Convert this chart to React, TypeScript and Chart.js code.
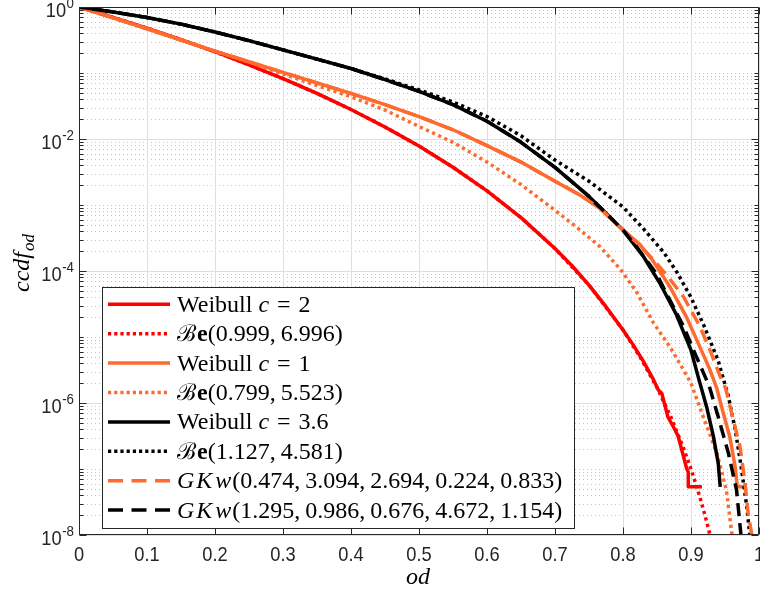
import { useEffect, useRef } from 'react';
import { Chart, registerables } from 'chart.js';

Chart.register(...registerables);

// ---------- data ----------
const X_TICKS = [0, 0.1, 0.2, 0.3, 0.4, 0.5, 0.6, 0.7, 0.8, 0.9, 1];
const X_TICK_LABELS = ['0', '0.1', '0.2', '0.3', '0.4', '0.5', '0.6', '0.7', '0.8', '0.9', '1'];
const Y_MAJOR = [1, 1e-2, 1e-4, 1e-6, 1e-8];
const Y_EXP_LABELS = ['0', '-2', '-4', '-6', '-8'];

// Weibull c = 2 (red, solid)
const weib2X = [0, 0.05, 0.1, 0.15, 0.2, 0.25, 0.3, 0.35, 0.4, 0.45, 0.5, 0.55, 0.6, 0.65, 0.7, 0.725, 0.75, 0.775, 0.8, 0.815, 0.83, 0.845, 0.852, 0.857, 0.862, 0.866, 0.874, 0.881, 0.889, 0.893, 0.896, 0.896, 0.916];
const weib2Y = [1, 0.698, 0.479, 0.321, 0.21, 0.133, 0.0824, 0.049, 0.028, 0.0152, 7.82e-3, 3.73e-3, 1.64e-3, 6.43e-4, 2.19e-4, 1.2e-4, 6.11e-5, 2.88e-5, 1.28e-5, 7.6e-6, 4.27e-6, 2.24e-6, 1.58e-6, 1.41e-6, 8.9e-7, 6.17e-7, 4.37e-7, 3.16e-7, 1.55e-7, 1.07e-7, 8.9e-8, 5.37e-8, 5.37e-8];

// Be(0.999, 6.996) (red, dotted)
const be1X = [0, 0.05, 0.1, 0.15, 0.2, 0.25, 0.3, 0.35, 0.4, 0.45, 0.5, 0.55, 0.6, 0.65, 0.7, 0.75, 0.8, 0.825, 0.85, 0.87, 0.89, 0.9, 0.91, 0.92, 0.93];
const be1Y = [1, 0.698, 0.478, 0.321, 0.21, 0.133, 0.0824, 0.049, 0.028, 0.0152, 7.82e-3, 3.73e-3, 1.64e-3, 6.43e-4, 2.19e-4, 6.11e-5, 1.28e-5, 5.0e-6, 1.71e-6, 6.28e-7, 1.95e-7, 1e-7, 4.79e-8, 2.09e-8, 8.3e-9];

// Weibull c = 1 (orange, solid)
const weib1X = [0, 0.05, 0.1, 0.15, 0.2, 0.25, 0.3, 0.35, 0.4, 0.45, 0.5, 0.55, 0.6, 0.65, 0.7, 0.737, 0.766, 0.795, 0.825, 0.843, 0.869, 0.893, 0.913, 0.928, 0.938, 0.945, 0.957, 0.965, 0.968, 0.979];
const weib1Y = [1, 0.684, 0.468, 0.316, 0.214, 0.148, 0.102, 0.0708, 0.049, 0.0331, 0.0219, 0.0138, 7.94e-3, 4.47e-3, 2.29e-3, 1.41e-3, 8.91e-4, 4.68e-4, 2.51e-4, 1.48e-4, 5.75e-5, 2.04e-5, 7.08e-6, 3.16e-6, 1.66e-6, 8.71e-7, 3.09e-7, 1.07e-7, 5.37e-8, 5.37e-8];

// Be(0.799, 5.523) (orange, dotted)
const be2X = [0, 0.05, 0.1, 0.15, 0.2, 0.25, 0.3, 0.35, 0.4, 0.45, 0.5, 0.55, 0.6, 0.65, 0.7, 0.737, 0.766, 0.796, 0.82, 0.845, 0.869, 0.889, 0.9, 0.918, 0.938, 0.952, 0.96, 0.963];
const be2Y = [1, 0.684, 0.468, 0.316, 0.214, 0.146, 0.0965, 0.0646, 0.0437, 0.0275, 0.0155, 8.91e-3, 4.47e-3, 2.04e-3, 8.32e-4, 4.17e-4, 2.34e-4, 1.07e-4, 4.79e-5, 1.62e-5, 7.08e-6, 3.16e-6, 2.0e-6, 6.17e-7, 1.74e-7, 4.79e-8, 1.07e-8, 6.3e-9];

// Weibull c = 3.6 (black, solid)
const weib36X = [0, 0.05, 0.1, 0.15, 0.2, 0.25, 0.3, 0.35, 0.4, 0.45, 0.5, 0.55, 0.6, 0.65, 0.7, 0.75, 0.8, 0.83, 0.855, 0.878, 0.9, 0.911, 0.923, 0.933, 0.94, 0.943];
const weib36Y = [1, 0.841, 0.692, 0.55, 0.417, 0.309, 0.224, 0.162, 0.117, 0.0794, 0.0525, 0.0331, 0.0186, 8.91e-3, 3.72e-3, 1.35e-3, 4.17e-4, 1.66e-4, 6.31e-5, 2.24e-5, 6.31e-6, 2.4e-6, 8.71e-7, 3.09e-7, 1.23e-7, 5.37e-8];

// Be(1.127, 4.581) (black, dotted)
const be3X = [0, 0.05, 0.1, 0.15, 0.2, 0.25, 0.3, 0.35, 0.4, 0.45, 0.5, 0.55, 0.6, 0.65, 0.7, 0.75, 0.8, 0.83, 0.86, 0.88, 0.9, 0.92, 0.94, 0.955, 0.965, 0.974, 0.982, 0.987];
const be3Y = [1, 0.841, 0.692, 0.55, 0.417, 0.309, 0.224, 0.162, 0.117, 0.0813, 0.0556, 0.0363, 0.0219, 0.0112, 4.79e-3, 2.29e-3, 9.33e-4, 4.37e-4, 1.91e-4, 9.33e-5, 3.98e-5, 1.41e-5, 4.37e-6, 1.26e-6, 3.98e-7, 1.05e-7, 2.69e-8, 8.9e-9];

// GKw(0.474, 3.094, 2.694, 0.224, 0.833) (orange, dashed)
const gkw1X = [0, 0.05, 0.1, 0.15, 0.2, 0.25, 0.3, 0.35, 0.4, 0.45, 0.5, 0.55, 0.6, 0.65, 0.7, 0.737, 0.766, 0.795, 0.82, 0.844, 0.865, 0.889, 0.913, 0.928, 0.943, 0.951, 0.96, 0.972, 0.979, 0.984, 0.989, 0.991];
const gkw1Y = [1, 0.684, 0.468, 0.316, 0.214, 0.148, 0.102, 0.0708, 0.049, 0.0331, 0.0219, 0.0138, 7.94e-3, 4.47e-3, 2.29e-3, 1.41e-3, 8.91e-4, 4.68e-4, 2.69e-4, 1.51e-4, 8.5e-5, 4.07e-5, 1.45e-5, 6.31e-6, 2.51e-6, 1.66e-6, 6.92e-7, 2.19e-7, 6.76e-8, 2.14e-8, 1.07e-8, 6.3e-9];

// GKw(1.295, 0.986, 0.676, 4.672, 1.154) (black, dashed)
const gkw2X = [0, 0.05, 0.1, 0.15, 0.2, 0.25, 0.3, 0.35, 0.4, 0.45, 0.5, 0.55, 0.6, 0.65, 0.7, 0.75, 0.8, 0.82, 0.849, 0.869, 0.889, 0.908, 0.927, 0.94, 0.955, 0.967, 0.973, 0.975];
const gkw2Y = [1, 0.841, 0.692, 0.55, 0.417, 0.309, 0.224, 0.162, 0.117, 0.0794, 0.0525, 0.0331, 0.0186, 8.91e-3, 3.72e-3, 1.35e-3, 4.17e-4, 2.34e-4, 9.12e-5, 3.63e-5, 1.45e-5, 5.01e-6, 1.78e-6, 6.17e-7, 1.74e-7, 4.79e-8, 1.12e-8, 6.3e-9];

// ---------- styles ----------
const RED = '#ff0000';
const ORANGE = '#ff6a2e';
const BLACK = '#000000';
const AXIS = '#262626';
const DOTTED = [3.2, 3.5];
const DASHED = [13, 7];
const LEG_DOTTED = [3.2, 3];
const LEG_DASHED = [15, 8.5];
const LINE_W = 3.5;

const RF = '24px "Liberation Serif", "DejaVu Serif", serif';
const IF = 'italic 24px "Liberation Serif", "DejaVu Serif", serif';
const BF = 'bold 24px "Liberation Serif", "DejaVu Serif", serif';
const CALF = '23px "DejaVu Serif", serif';
const TICKF = '21px "Liberation Sans", Arial, sans-serif';
const SUPF = '14px "Liberation Sans", Arial, sans-serif';

type Part = { t: string; f: string } | number;
const r = (t: string): Part => ({ t, f: RF });
const it = (t: string): Part => ({ t, f: IF });

const beta = (a: string, b: string): Part[] => [
  { t: '\u212C', f: CALF }, 1, { t: 'e', f: BF }, r('(' + a + ','), 5, r(b + ')'),
];
const weib = (c: string): Part[] => [r('Weibull'), 6, it('c'), 8, r('='), 8, r(c)];
const gkw = (v: string[]): Part[] => {
  const out: Part[] = [it('G'), 2, it('K'), 3, it('w'), 1, r('(')];
  v.forEach((s, i) => {
    out.push(r(s + (i < v.length - 1 ? ',' : ')')));
    if (i < v.length - 1) out.push(5);
  });
  return out;
};

const SERIES = [
  { xs: weib2X, ys: weib2Y, color: RED, dash: [] as number[], legDash: [] as number[], label: weib('2') },
  { xs: be1X, ys: be1Y, color: RED, dash: DOTTED, legDash: LEG_DOTTED, label: beta('0.999', '6.996') },
  { xs: weib1X, ys: weib1Y, color: ORANGE, dash: [] as number[], legDash: [] as number[], label: weib('1') },
  { xs: be2X, ys: be2Y, color: ORANGE, dash: DOTTED, legDash: LEG_DOTTED, label: beta('0.799', '5.523') },
  { xs: weib36X, ys: weib36Y, color: BLACK, dash: [] as number[], legDash: [] as number[], label: weib('3.6') },
  { xs: be3X, ys: be3Y, color: BLACK, dash: DOTTED, legDash: LEG_DOTTED, label: beta('1.127', '4.581') },
  { xs: gkw1X, ys: gkw1Y, color: ORANGE, dash: DASHED, legDash: LEG_DASHED, label: gkw(['0.474', '3.094', '2.694', '0.224', '0.833']) },
  { xs: gkw2X, ys: gkw2Y, color: BLACK, dash: DASHED, legDash: LEG_DASHED, label: gkw(['1.295', '0.986', '0.676', '4.672', '1.154']) },
];

function drawRich(ctx: CanvasRenderingContext2D, x: number, y: number, parts: Part[]) {
  let cx = x;
  for (const p of parts) {
    if (typeof p === 'number') { cx += p; continue; }
    ctx.font = p.f;
    ctx.fillText(p.t, cx, y);
    cx += ctx.measureText(p.t).width;
  }
}

function drawSquished(ctx: CanvasRenderingContext2D, text: string, x: number, y: number, sx: number, align: CanvasTextAlign) {
  ctx.save();
  ctx.translate(x, y);
  ctx.scale(sx, 1);
  ctx.textAlign = align;
  ctx.fillText(text, 0, 0);
  ctx.restore();
}

const matlabPlugin = {
  id: 'matlabAxes',
  beforeDatasetsDraw(chart: any) {
    const { ctx, chartArea: a, scales } = chart;
    const xs = scales.x, ys = scales.y;
    ctx.save();
    ctx.lineWidth = 1;
    ctx.strokeStyle = '#c4c4c4';
    ctx.setLineDash([1, 3]);
    for (let k = -8; k < 0; k++) {
      for (let m = 1; m <= 9; m++) {
        if (m === 1 && k % 2 === 0) continue;
        const v = m * Math.pow(10, k);
        const py = Math.round(ys.getPixelForValue(v)) + 0.5;
        ctx.beginPath(); ctx.moveTo(a.left, py); ctx.lineTo(a.right, py); ctx.stroke();
      }
    }
    ctx.setLineDash([]);
    ctx.strokeStyle = '#dedede';
    for (const v of X_TICKS) {
      const px = Math.round(xs.getPixelForValue(v)) + 0.5;
      ctx.beginPath(); ctx.moveTo(px, a.top); ctx.lineTo(px, a.bottom); ctx.stroke();
    }
    for (const v of Y_MAJOR) {
      const py = Math.round(ys.getPixelForValue(v)) + 0.5;
      ctx.beginPath(); ctx.moveTo(a.left, py); ctx.lineTo(a.right, py); ctx.stroke();
    }
    ctx.restore();
  },
  afterDatasetsDraw(chart: any) {
    const { ctx, chartArea: a, scales } = chart;
    const xs = scales.x, ys = scales.y;
    ctx.save();
    ctx.strokeStyle = AXIS;
    ctx.lineWidth = 1;
    ctx.setLineDash([]);
    const L = Math.round(a.left) + 0.5, R = Math.round(a.right) - 0.5;
    const T = Math.round(a.top) + 0.5, B = Math.round(a.bottom) - 0.5;
    ctx.beginPath();
    ctx.moveTo(L, T); ctx.lineTo(R, T); ctx.lineTo(R, B); ctx.lineTo(L, B); ctx.closePath();
    ctx.stroke();
    for (const v of X_TICKS) {
      const px = Math.round(xs.getPixelForValue(v)) + 0.5;
      ctx.beginPath();
      ctx.moveTo(px, B); ctx.lineTo(px, B - 7);
      ctx.moveTo(px, T); ctx.lineTo(px, T + 7);
      ctx.stroke();
    }
    for (let k = -8; k <= 0; k++) {
      for (let m = 1; m <= 9; m++) {
        if (k === 0 && m > 1) continue;
        const v = m * Math.pow(10, k);
        const py = Math.round(ys.getPixelForValue(v)) + 0.5;
        const len = m === 1 && k % 2 === 0 ? 7 : 4;
        ctx.beginPath();
        ctx.moveTo(L, py); ctx.lineTo(L + len, py);
        ctx.moveTo(R, py); ctx.lineTo(R - len, py);
        ctx.stroke();
      }
    }
    ctx.fillStyle = AXIS;
    ctx.textBaseline = 'alphabetic';
    ctx.font = TICKF;
    X_TICKS.forEach((v, i) => {
      const px = xs.getPixelForValue(v);
      drawSquished(ctx, X_TICK_LABELS[i], px, 561, 0.87, 'center');
    });
    Y_MAJOR.forEach((v, i) => {
      const py = ys.getPixelForValue(v);
      ctx.font = SUPF;
      const supW = ctx.measureText(Y_EXP_LABELS[i]).width * 0.95;
      drawSquished(ctx, Y_EXP_LABELS[i], 74, py + 1, 0.95, 'right');
      ctx.font = TICKF;
      drawSquished(ctx, '10', 74 - supW - 0.5, py + 10, 0.87, 'right');
    });
    ctx.fillStyle = '#000';
    ctx.font = IF;
    ctx.textAlign = 'center';
    ctx.fillText('od', 418, 584);
    ctx.save();
    ctx.translate(29, 292);
    ctx.rotate(-Math.PI / 2);
    ctx.textAlign = 'left';
    ctx.font = IF;
    ctx.fillText('ccdf', 0, 0);
    const w = ctx.measureText('ccdf').width;
    ctx.font = 'italic 17px "Liberation Serif", serif';
    ctx.fillText('od', w + 1, 5);
    ctx.restore();
    ctx.restore();
  },
  afterDraw(chart: any) {
    const { ctx } = chart;
    ctx.save();
    const bx = 102, by = 287, bw = 472, bh = 241;
    ctx.fillStyle = '#ffffff';
    ctx.fillRect(bx, by, bw, bh);
    ctx.strokeStyle = AXIS;
    ctx.lineWidth = 1;
    ctx.setLineDash([]);
    ctx.strokeRect(bx + 0.5, by + 0.5, bw, bh);
    SERIES.forEach((s, i) => {
      const yy = 304.3 + i * 29.4;
      ctx.save();
      ctx.strokeStyle = s.color;
      ctx.lineWidth = LINE_W;
      ctx.lineCap = 'butt';
      ctx.setLineDash(s.legDash);
      ctx.beginPath(); ctx.moveTo(108, yy); ctx.lineTo(170, yy); ctx.stroke();
      ctx.restore();
      ctx.fillStyle = '#000';
      ctx.textAlign = 'left';
      ctx.textBaseline = 'alphabetic';
      drawRich(ctx, 177, yy + 7.5, s.label);
    });
    ctx.restore();
  },
};

export default function App() {
  const ref = useRef<HTMLCanvasElement | null>(null);
  useEffect(() => {
    if (!ref.current) return;
    const n = SERIES.length;
    const chart = new Chart(ref.current, {
      type: 'line',
      data: {
        datasets: SERIES.map((s, i) => ({
          data: s.xs.map((x, j) => ({ x, y: s.ys[j] })),
          borderColor: s.color,
          backgroundColor: s.color,
          borderWidth: LINE_W,
          borderDash: s.dash,
          borderCapStyle: 'butt' as const,
          borderJoinStyle: 'round' as const,
          pointRadius: 0,
          fill: false,
          tension: 0,
          clip: 0,
          order: n - i,
        })),
      },
      options: {
        responsive: false,
        animation: false,
        devicePixelRatio: 1,
        parsing: false,
        layout: { padding: { left: 79, top: 7, right: 1, bottom: 59 } },
        scales: {
          x: { type: 'linear', min: 0, max: 1, display: false },
          y: { type: 'logarithmic', min: 1e-8, max: 1, display: false },
        },
        plugins: { legend: { display: false }, tooltip: { enabled: false } },
        events: [],
      },
      plugins: [matlabPlugin],
    } as any);
    return () => chart.destroy();
  }, []);
  return (
    <div style={{ position: 'absolute', left: 0, top: 0, width: 760, height: 594, background: '#fff' }}>
      <canvas ref={ref} width={760} height={594} style={{ display: 'block' }} />
    </div>
  );
}
